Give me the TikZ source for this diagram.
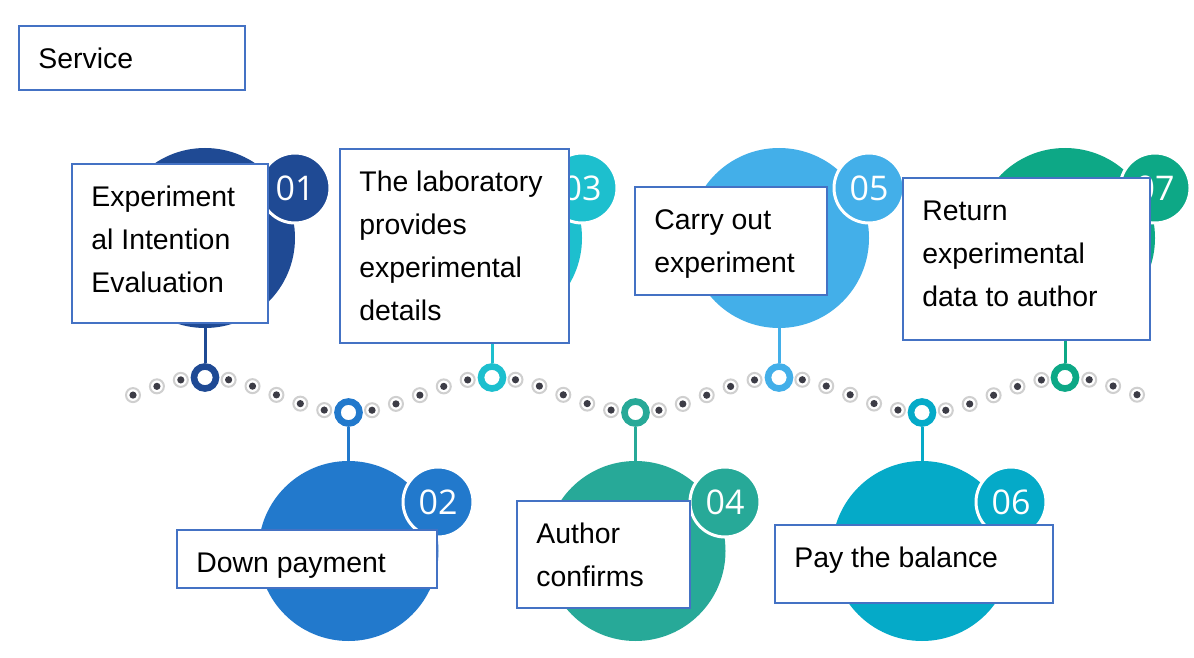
\documentclass[tikz,border=0pt]{standalone}
\usepackage{fontspec}
\setmainfont{Liberation Sans}
\newfontfamily\numfont{Open Sans}
\definecolor{cA}{HTML}{1F4A94}
\definecolor{cB}{HTML}{2279CC}
\definecolor{cC}{HTML}{1DBFCE}
\definecolor{cD}{HTML}{27A998}
\definecolor{cE}{HTML}{43AFE9}
\definecolor{cF}{HTML}{05AAC8}
\definecolor{cG}{HTML}{0DA886}
\definecolor{boxc}{HTML}{4472C4}
\definecolor{dotc}{HTML}{3C3C46}
\definecolor{dotring}{HTML}{CFCFCF}
\begin{document}
\begin{tikzpicture}[x=0.5pt,y=-0.5pt,
  bigc/.style={circle, fill=#1, minimum size=90pt, inner sep=0, outer sep=0},
  numc/.style={circle, fill=#1, draw=white, line width=1.5pt, minimum size=35pt, inner sep=0,
     text=white, font=\numfont\fontsize{17}{17}\selectfont},
  ringc/.style={circle, draw=#1, fill=white, line width=3.3pt, minimum size=11pt, inner sep=0},
  stem/.style={draw=#1, line width=1.5pt},
  boxn/.style={draw=boxc, fill=white, line width=0.9pt, anchor=north west, inner sep=0, outer sep=0},
  txt/.style={anchor=north west, inner sep=0, align=left, text=black, xshift=9.5pt, yshift=-9pt,
     font=\fontsize{14.2}{21.5}\selectfont}
]
\useasboundingbox (0,0) rectangle (1194,658);
\fill[white] (0,0) rectangle (1194,658);

% big circles
\node[bigc=cA] (c1) at (205,238) {};
\node[bigc=cC] (c3) at (492,238) {};
\node[bigc=cE] (c5) at (779,238) {};
\node[bigc=cG] (c7) at (1065,238) {};
\node[bigc=cB] (c2) at (348.5,551) {};
\node[bigc=cD] (c4) at (635.5,551) {};
\node[bigc=cF] (c6) at (922,551) {};

% number circles
\node[numc=cA] (n1) at (295,188) {01};
\node[numc=cC] (n3) at (582,188) {03};
\node[numc=cE] (n5) at (869,188) {05};
\node[numc=cG] (n7) at (1155,188) {07};
\node[numc=cB] (n2) at (438,502) {02};
\node[numc=cD] (n4) at (725,502) {04};
\node[numc=cF] (n6) at (1011,502) {06};

% dotted wave
\foreach \k in {0,...,42}{
  \pgfmathtruncatemacro\m{mod(\k+3,6)}
  \ifnum\m=0\relax\else
    \pgfmathsetmacro\dx{133+23.905*\k}
    \pgfmathsetmacro\dy{395-17.5*cos((\dx-205)*1.254355)}
    \filldraw[fill=white, draw=dotring, line width=1pt] (\dx,\dy) circle (7);
    \fill[dotc] (\dx,\dy) circle (3.6);
  \fi
}

% ring markers
\node[ringc=cA] (r1) at (205,377.5) {};
\node[ringc=cB] (r2) at (348.5,412.5) {};
\node[ringc=cC] (r3) at (492,377.5) {};
\node[ringc=cD] (r4) at (635.5,412.5) {};
\node[ringc=cE] (r5) at (779,377.5) {};
\node[ringc=cF] (r6) at (922,412.5) {};
\node[ringc=cG] (r7) at (1065,377.5) {};

% stems
\draw[stem=cA] (r1) -- (c1);
\draw[stem=cB] (r2) -- (c2);
\draw[stem=cC] (r3) -- (c3);
\draw[stem=cD] (r4) -- (c4);
\draw[stem=cE] (r5) -- (c5);
\draw[stem=cF] (r6) -- (c6);
\draw[stem=cG] (r7) -- (c7);

% boxes
\node[boxn, minimum width=113pt, minimum height=32pt] (b0) at (19,26) {};
\node[txt] (t0) at (b0.north west) {\rule{0pt}{12pt}Service};

\node[boxn, minimum width=98pt, minimum height=79.5pt] (b1) at (72,164) {};
\node[txt] (t1) at (b1.north west) {\rule{0pt}{12pt}Experiment\\al Intention\\Evaluation};

\node[boxn, minimum width=114.5pt, minimum height=97pt] (b3) at (340,149) {};
\node[txt] (t3) at (b3.north west) {\rule{0pt}{12pt}The laboratory\\provides\\experimental\\details};

\node[boxn, minimum width=96pt, minimum height=54pt] (b5) at (635,187) {};
\node[txt] (t5) at (b5.north west) {\rule{0pt}{12pt}Carry out\\experiment};

\node[boxn, minimum width=123.5pt, minimum height=81pt] (b7) at (903,178) {};
\node[txt] (t7) at (b7.north west) {\rule{0pt}{12pt}Return\\experimental\\data to author};

\node[boxn, minimum width=130pt, minimum height=29pt] (b2) at (177,530) {};
\node[txt] (t2) at (b2.north west) {\rule{0pt}{12pt}Down payment};

\node[boxn, minimum width=86.5pt, minimum height=53.5pt] (b4) at (517,501) {};
\node[txt] (t4) at (b4.north west) {\rule{0pt}{12pt}Author\\confirms};

\node[boxn, minimum width=139pt, minimum height=39pt] (b6) at (775,525) {};
\node[txt] (t6) at (b6.north west) {\rule{0pt}{12pt}Pay the balance};
\end{tikzpicture}
\end{document}
